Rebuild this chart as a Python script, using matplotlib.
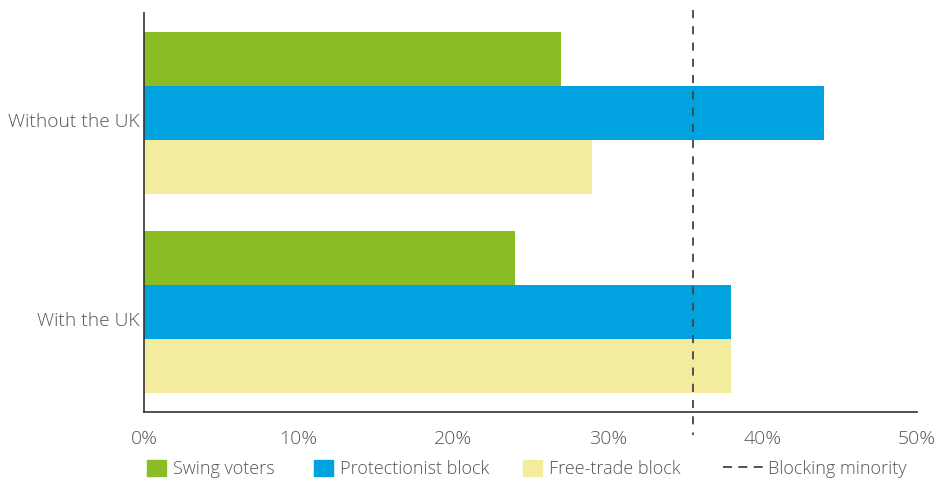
import matplotlib.pyplot as plt
from matplotlib.patches import Patch
from matplotlib.lines import Line2D
from matplotlib.transforms import ScaledTranslation
import numpy as np

# data
scenarios = ["Without the UK", "With the UK"]
swing = [27, 24]
protectionist = [44, 38]
free_trade = [29, 38]
blocking_minority = 35.5
xticks = [0, 10, 20, 30, 40, 50]

green = "#8abd24"
blue = "#00a3e0"
yellow = "#f2ec9c"
grey = "#555555"

plt.rcParams['font.family'] = ['Open Sans', 'DejaVu Sans']
plt.rcParams['font.weight'] = 'light'

fig = plt.figure(figsize=(9.38, 4.82), dpi=100)
ax = fig.add_axes([144/938, 1 - 412/482, (917-144)/938, (412-13)/482])

y = np.arange(len(scenarios))
h = 0.27
ax.barh(y - h, swing, height=h, color=green)
ax.barh(y, protectionist, height=h, color=blue)
ax.barh(y + h, free_trade, height=h, color=yellow)

# dashed line runs a bit past the axes, like in the original
ax.plot([blocking_minority, blocking_minority], [-0.5 - 0.015, 1.5 + 0.115],
        color="#444444", linestyle=(0, (4.5, 4.5)), linewidth=1.3, clip_on=False)

ax.set_xlim(0, 50)
ax.set_ylim(1.5, -0.5)
ax.set_xticks(xticks)
ax.set_xticklabels([f"{t}%" for t in xticks])
ax.set_yticks(y)
ax.set_yticklabels(scenarios)
ax.tick_params(length=0, colors=grey, labelsize=14)
ax.tick_params(axis='x', pad=13)
ax.tick_params(axis='y', pad=3, labelsize=13.8)
for lab in ax.get_yticklabels():
    lab.set_transform(lab.get_transform() + ScaledTranslation(0, -7/100, fig.dpi_scale_trans))

for s in ['top', 'right']:
    ax.spines[s].set_visible(False)
for s in ['left', 'bottom']:
    ax.spines[s].set_color("#333333")
    ax.spines[s].set_linewidth(1.2)

# legend: one small legend per entry so each sits where it does in the original
entries = [
    (Patch(color=green, label="Swing voters"), 147),
    (Patch(color=blue, label="Protectionist block"), 314),
    (Patch(color=yellow, label="Free-trade block"), 523),
    (Line2D([], [], color="#444444", linestyle=(0, (5, 3.5)), linewidth=1.3, label="Blocking minority"), 723),
]
for handle, xpos in entries:
    is_line = isinstance(handle, Line2D)
    leg = fig.legend(handles=[handle], loc='center left', bbox_to_anchor=(xpos/938, 1 - 469/482),
                     frameon=False, fontsize=13, borderpad=0, borderaxespad=0,
                     handlelength=2.2 if is_line else 1.05, handleheight=1.05,
                     handletextpad=0.3 if is_line else 0.39)
    for t in leg.get_texts():
        t.set_color(grey)

fig.savefig("out.png", dpi=100)
